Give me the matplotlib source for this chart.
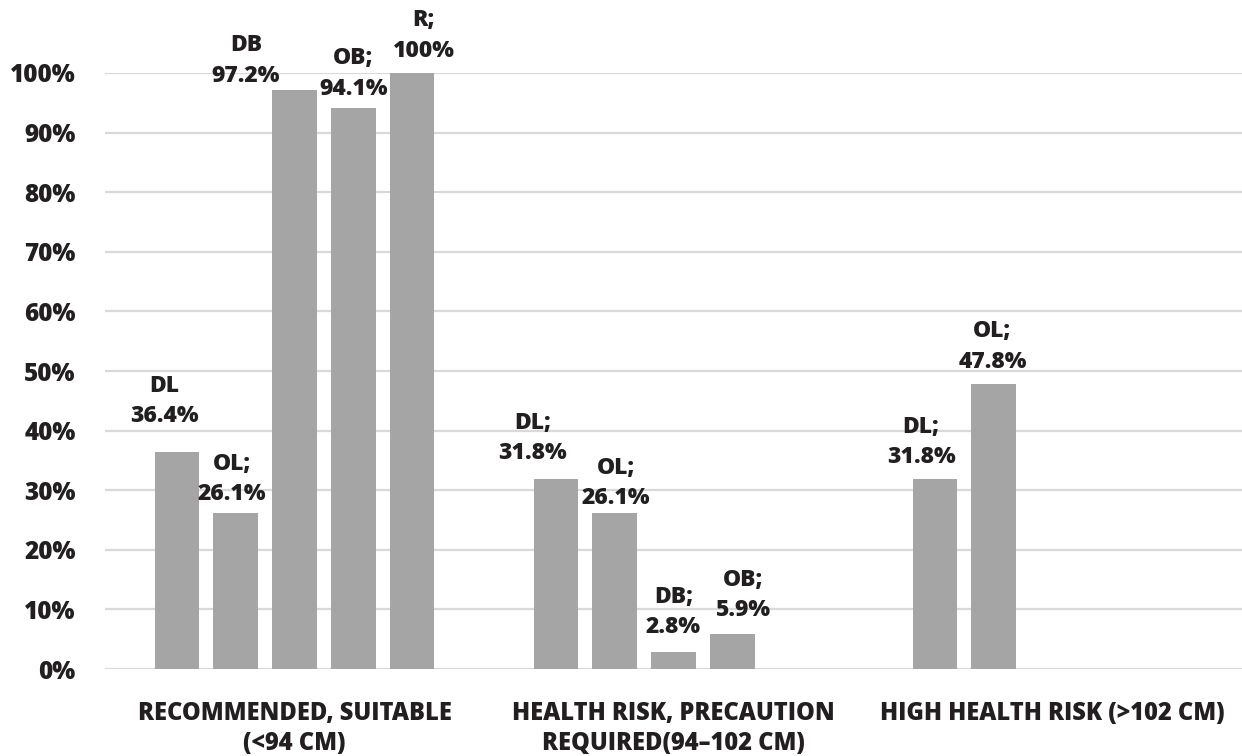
import numpy as np
import matplotlib.pyplot as plt

# waist circumference categories and share of each group
categories = ["RECOMMENDED, SUITABLE\n(<94 CM)",
              "HEALTH RISK, PRECAUTION\nREQUIRED(94\u2013102 CM)",
              "HIGH HEALTH RISK (>102 CM)"]
group_names = [["DL", "OL", "DB", "OB", "R"],
               ["DL", "OL", "DB", "OB"],
               ["DL", "OL"]]
group_values = [[36.4, 26.1, 97.2, 94.1, 100.0],
                [31.8, 26.1, 2.8, 5.9],
                [31.8, 47.8]]
label_texts = [["DL\n36.4%", "OL;\n26.1%", "DB\n97.2%", "OB;\n94.1%", "R;\n100%"],
               ["DL;\n31.8%", "OL;\n26.1%", "DB;\n2.8%", "OB;\n5.9%"],
               ["DL;\n31.8%", "OL;\n47.8%"]]
# label nudges in points (dx, dy above bar top)
label_offsets = [[(-9, 37), (-3, 25), (-35, 21), (0, 25), (8, 27)],
                 [(-17, 30), (1, 22), (0, 29), (8, 28)],
                 [(-10, 27), (-1, 27)]]

bar_color = "#a5a5a5"
text_color = "#231f20"
font = "Open Sans"

slot = 0.155
width = 0.118

fig = plt.figure(figsize=(12.42, 7.56), dpi=100)
ax = fig.add_axes([0.0845, 0.115, 0.9155, 0.7885])

for gi, (names, vals) in enumerate(zip(group_names, group_values)):
    xs = gi + (np.arange(len(vals)) - 2) * slot
    ax.bar(xs, np.array(vals) / 100, width=width, color=bar_color, zorder=3)
    for x, v, txt, (dx, dy) in zip(xs, vals, label_texts[gi], label_offsets[gi]):
        ax.annotate(txt, (x, v / 100), xytext=(dx, dy), textcoords="offset points",
                    ha="center", va="center", fontsize=16.5, fontweight="heavy",
                    family=font, color=text_color, linespacing=1.35,
                    annotation_clip=False)

ax.set_xlim(-0.5, 2.5)
ax.set_ylim(0, 1.0)
ax.set_yticks(np.arange(0, 1.01, 0.1))
ax.set_yticklabels([f"{int(round(t * 100))}%" for t in np.arange(0, 1.01, 0.1)],
                   fontsize=17.5, fontweight="heavy", family=font, color=text_color)
ax.set_xticks(range(3))
ax.set_xticklabels(categories, fontsize=17, fontweight="heavy", family=font,
                   color=text_color, linespacing=1.25)
ax.tick_params(axis="y", length=0, pad=21)
ax.tick_params(axis="x", length=0, pad=23)
ax.yaxis.grid(True, color="#d9d9d9", linewidth=1.6, zorder=0)
ax.set_axisbelow(True)
for s in ax.spines.values():
    s.set_visible(False)

fig.savefig("out.png", dpi=100)
